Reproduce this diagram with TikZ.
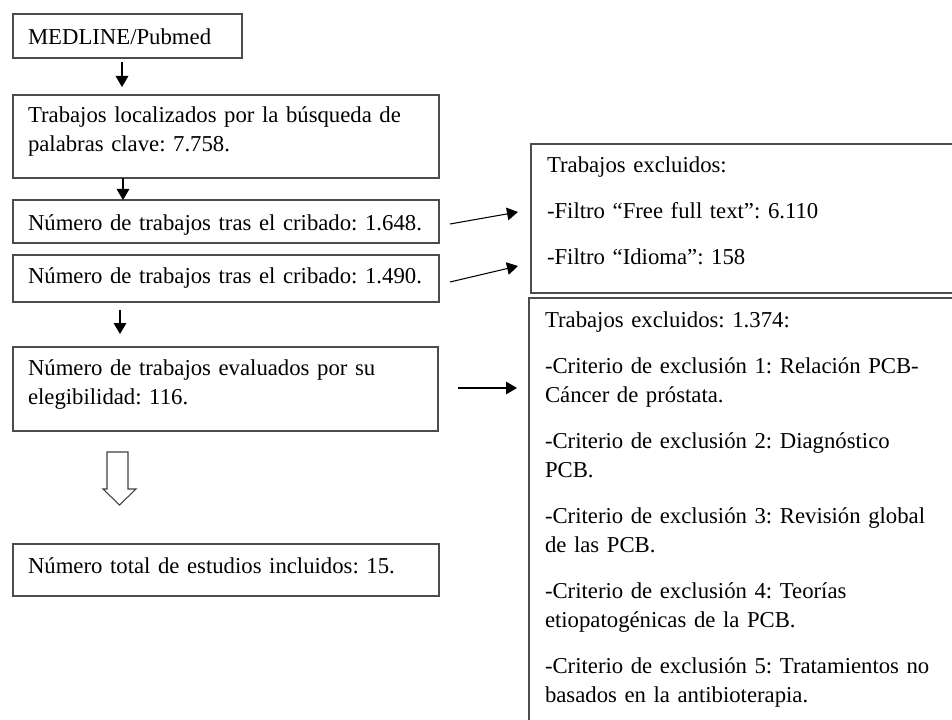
\documentclass[tikz,border=0pt]{standalone}
\usepackage{fontspec}
\setmainfont{Liberation Serif}
\usetikzlibrary{arrows.meta,calc}

\begin{document}
\begin{tikzpicture}[x=0.75pt, y=-0.75pt,
    %Boxes and arrows
    caja/.style={draw=black!70, line width=0.8pt, anchor=north west, align=left,
        inner xsep=11.25pt, inner ysep=0pt, outer sep=0pt,
        font=\fontsize{17.05pt}{21.75pt}\selectfont\frenchspacing},%
    flecha/.style={line width=0.8pt, -{Triangle[length=8.25pt,width=9.5pt]}},
    hueco/.style={draw=black!75, line width=0.8pt, fill=white},
]
    % Page
    \useasboundingbox (0,0) rectangle (952,720);
    \clip (0,0) rectangle (952,720);

    % Left column
    \node[caja, text width=149.25pt, text height=23.25pt, text depth=9.75pt]
        (medline) at (13,14) {\mbox{MEDLINE/Pubmed}};
    \node[caja, text width=297pt, text height=21pt, text depth=41.25pt]
        (localizados) at (13,95) {\mbox{Trabajos localizados por la búsqueda de}\\palabras clave: 7.758.};
    \node[caja, text width=297pt, text height=22.5pt, text depth=9.75pt]
        (cribadoA) at (13,200) {\mbox{Número de trabajos tras el cribado: 1.648.}};
    \node[caja, text width=297pt, text height=21pt, text depth=14.25pt]
        (cribadoB) at (13,255) {\mbox{Número de trabajos tras el cribado: 1.490.}};
    \node[caja, text width=296.25pt, text height=21pt, text depth=42pt]
        (evaluados) at (13,347) {\mbox{Número de trabajos evaluados por su}\\elegibilidad: 116.};
    \node[caja, text width=297pt, text height=21.75pt, text depth=17.25pt]
        (total) at (13,544) {\mbox{Número total de estudios incluidos: 15.}};

    % Right column (runs off the page)
    \node[caja, inner xsep=12pt, text width=305.25pt, text height=21.75pt, text depth=90pt]
        (excluA) at (531,144) {Trabajos excluidos:\\[12.75pt]
        -Filtro “Free full text”: 6.110\\[12.75pt]
        -Filtro “Idioma”: 158};
    \node[caja, inner xsep=12pt, text width=306.75pt, text height=21.75pt, text depth=337.5pt]
        (excluB) at (529,298) {Trabajos excluidos: 1.374:\\[12.75pt]
        \mbox{-Criterio de exclusión 1: Relación PCB-}\\Cáncer de próstata.\\[12.75pt]
        \mbox{-Criterio de exclusión 2: Diagnóstico}\\PCB.\\[12.75pt]
        \mbox{-Criterio de exclusión 3: Revisión global}\\de las PCB.\\[12.75pt]
        \mbox{-Criterio de exclusión 4: Teorías}\\etiopatogénicas de la PCB.\\[12.75pt]
        \mbox{-Criterio de exclusión 5: Tratamientos no}\\basados en la antibioterapia.};

    % Down arrows
    \draw[flecha] ($(medline.south west)+(109,4)$) -- ($(localizados.north west)+(109,-8)$);
    \draw[flecha] ($(localizados.south west)+(110,0)$) -- ($(cribadoA.north west)+(110,0)$);
    \draw[flecha] ($(cribadoB.south west)+(107,8)$) -- ($(evaluados.north west)+(107,-13)$);

    %Hollow arrow to the final box
    \draw[hueco] (107,452) -- (128,452) -- (128,489) -- (136,489) -- (119.5,505)
        -- (103,489) -- (107,489) -- cycle;

    % Arrows to the excluded boxes
    \draw[flecha] ($(cribadoA.east)+(11,2.5)$) -- ($(excluA.south west)+(-13,-81)$);
    \draw[flecha] ($(cribadoB.east)+(11,3.5)$) -- ($(excluA.south west)+(-13,-27)$);
    \draw[flecha] ($(evaluados.east)+(20,-1)$) -- ($(excluB.north west)+(-12,90)$);

\end{tikzpicture}
\end{document}
